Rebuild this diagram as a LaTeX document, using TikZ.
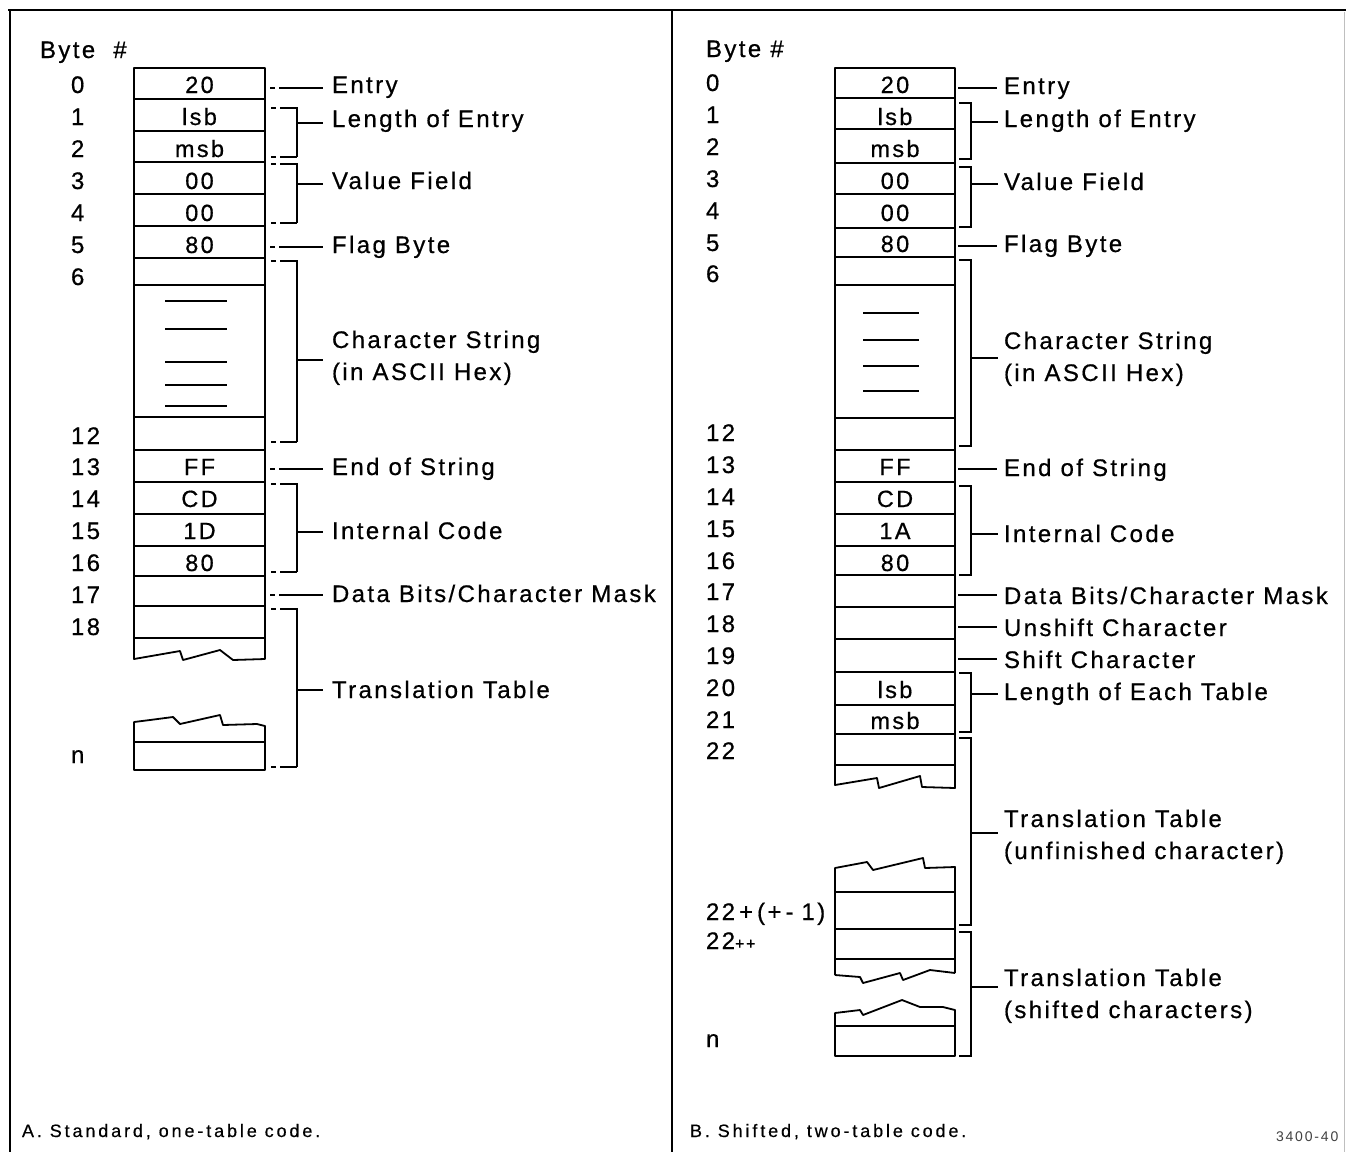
\documentclass[tikz,border=0pt]{standalone}
\usepackage{fontspec}
\newfontfamily\labfont[LetterSpace=10,FakeBold=0.6]{Liberation Sans}
\newfontfamily\capfont[LetterSpace=16,FakeBold=0.4]{Liberation Sans}
\newfontfamily\numfont[LetterSpace=13]{Liberation Sans}
\begin{document}
\begin{tikzpicture}[x=1pt,y=-1pt,
  every node/.style={inner sep=0pt,outer sep=0pt},
  lbl/.style={anchor=base west,font=\labfont\fontsize{24}{28}\selectfont},
  ctr/.style={anchor=base,font=\labfont\fontsize{23.5}{28}\selectfont},
  captext/.style={anchor=base west,font=\capfont\fontsize{18}{21}\selectfont},
  boxline/.style={line width=1.8pt,line join=round},
  lead/.style={line width=1.5pt},
  leadA/.style={line width=1.5pt,dash pattern=on 5pt off 4pt on 400pt off 0pt},
  frame/.style={line width=2pt}]
\useasboundingbox (0,0) rectangle (1346,1152);
% frame
\draw[frame] (8,10) -- (1346,10);
\draw[frame] (10,10) -- (10,1152);
\draw[frame] (672,10) -- (672,1152);
\draw[line width=1pt,black!25] (1344,12) -- (1344,1152);

% ================= Panel A =================
\node[lbl] (byteA) at (40,58) {Byte \ \#};
\foreach \t/\y [count=\k] in {0/85,1/117,2/149,3/181,4/213,5/245,6/277,12/436,13/467,14/499,15/531,16/563,17/595,18/627}
  \node[lbl] (ra\k) at (71,\y+8) {\t};
\node[lbl] (raN) at (71,763) {n};
% boxes
\foreach \a/\b in {68/99,99/131,131/162,162/194,194/226,226/258,258/285,285/417,417/450,450/482,482/514,514/546,546/576,576/606,606/638}
  \draw[boxline] (134,\a) rectangle (265,\b);
\draw[boxline] (134,638) -- (134,659) -- (180,651) -- (183,660) -- (220,650) -- (233,660) -- (265,659) -- (265,638);
\draw[boxline] (134,770) -- (134,722) -- (150,720) -- (173,717) -- (180,724) -- (220,715) -- (223,725) -- (257,724) -- (265,726) -- (265,770) -- cycle;
\draw[boxline] (134,742) -- (265,742);
\foreach \y in {301,329,362,385,406}
  \draw[line width=1.5pt] (165,\y) -- (227,\y);
\foreach \t/\y [count=\k] in {20/85,lsb/117,msb/149,00/181,00/213,80/245,FF/467,CD/499,1D/531,80/563}
  \node[ctr] (ba\k) at (199.5,\y+8) {\t};
% labels
\node[lbl] (la1) at (332,85+8) {Entry};
\node[lbl] (la2) at (332,119+8) {Length of Entry};
\node[lbl] (la3) at (332,181+8) {Value Field};
\node[lbl] (la4) at (332,245+8) {Flag Byte};
\node[lbl] (la5) at (332,340+8) {Character String};
\node[lbl] (la6) at (332,372+8) {(in ASCII Hex)};
\node[lbl] (la7) at (332,467+8) {End of String};
\node[lbl] (la8) at (332,531+8) {Internal Code};
\node[lbl] (la9) at (332,594+8) {Data Bits/Character Mask};
\node[lbl] (la10) at (332,690+8) {Translation Table};
% single leaders
\foreach \y in {88,247,469,595}
  \draw[leadA] (270,\y) -- (323,\y);
% brackets
\foreach \t/\b/\m in {108/157/123,164/223/184,261/442/360,484/572/532,609/767/690}{
  \draw[leadA] (271,\t) -- (297,\t) -- (297,\b);
  \draw[leadA] (271,\b) -- (297,\b);
  \draw[lead] (297,\m) -- (323,\m);
}
\node[captext] (capA) at (22,1137) {A. Standard, one-table code.};

% ================= Panel B =================
\node[lbl] (byteB) at (706,57) {Byte \#};
\foreach \t/\y [count=\k] in {0/83,1/115,2/147,3/179,4/211,5/243,6/274,12/433,13/465,14/497,15/529,16/561,17/592,18/624,19/656,20/688,21/720,22/751}
  \node[lbl] (rb\k) at (706,\y+8) {\t};
\node[lbl] (rbX) at (706,920) {22\,+\,(+\,-\,\,1)};
\node[lbl] (rbY) at (706,949) {22{\fontsize{16}{18}\selectfont++}};
\node[lbl] (rbN) at (706,1047) {n};
\foreach \a/\b in {68/98,98/129,129/163,163/194,194/228,228/257,257/285,285/418,418/450,450/482,482/514,514/546,546/575,575/607,607/639,639/672,672/705,705/734,734/765}
  \draw[boxline] (835,\a) rectangle (955,\b);
\draw[boxline] (835,765) -- (835,785) -- (877,778) -- (879,788) -- (920,776) -- (922,787) -- (955,788) -- (955,765);
\draw[boxline] (835,975) -- (835,868) -- (867,862) -- (873,870) -- (923,858) -- (925,868) -- (955,867) -- (955,973);
\draw[boxline] (835,975) -- (860,977) -- (863,983) -- (900,973) -- (903,980) -- (930,970) -- (955,973);
\foreach \y in {892,929,959}
  \draw[boxline] (835,\y) -- (955,\y);
\draw[boxline] (835,1056) -- (835,1013) -- (860,1010) -- (863,1015) -- (902,1000) -- (920,1007) -- (943,1007) -- (955,1010) -- (955,1056) -- cycle;
\draw[boxline] (835,1026) -- (955,1026);
\foreach \y in {313,340,366,391}
  \draw[line width=1.5pt] (863,\y) -- (919,\y);
\foreach \t/\y [count=\k] in {20/85,lsb/117,msb/149,00/181,00/213,80/244,FF/467,CD/499,1A/531,80/563,lsb/690,msb/721}
  \node[ctr] (bb\k) at (895,\y+8) {\t};
% labels
\node[lbl] (lb1) at (1004,86+8) {Entry};
\node[lbl] (lb2) at (1004,119+8) {Length of Entry};
\node[lbl] (lb3) at (1004,182+8) {Value Field};
\node[lbl] (lb4) at (1004,244+8) {Flag Byte};
\node[lbl] (lb5) at (1004,341+8) {Character String};
\node[lbl] (lb6) at (1004,373+8) {(in ASCII Hex)};
\node[lbl] (lb7) at (1004,468+8) {End of String};
\node[lbl] (lb8) at (1004,534+8) {Internal Code};
\node[lbl] (lb9) at (1004,596+8) {Data Bits/Character Mask};
\node[lbl] (lb10) at (1004,628+8) {Unshift Character};
\node[lbl] (lb11) at (1004,660+8) {Shift Character};
\node[lbl] (lb12) at (1004,692+8) {Length of Each Table};
\node[lbl] (lb13) at (1004,819+8) {Translation Table};
\node[lbl] (lb14) at (1004,851+8) {(unfinished character)};
\node[lbl] (lb15) at (1004,978+8) {Translation Table};
\node[lbl] (lb16) at (1004,1010+8) {(shifted characters)};
\foreach \y in {88,246,469,595,627,659}
  \draw[lead] (958,\y) -- (997,\y);
\foreach \t/\b/\m in {103/159/122,167/227/184,260/446/358,486/575/534,673/732/694,738/925/833,932/1056/987}{
  \draw[lead] (959,\t) -- (971,\t) -- (971,\b) -- (959,\b);
  \draw[lead] (971,\m) -- (998,\m);
}
\node[captext] (capB) at (690,1137) {B. Shifted, two-table code.};
\node[anchor=base west,font=\numfont\fontsize{14}{16}\selectfont,text=black!75] (fig) at (1276,1141) {3400-40};
\end{tikzpicture}
\end{document}
